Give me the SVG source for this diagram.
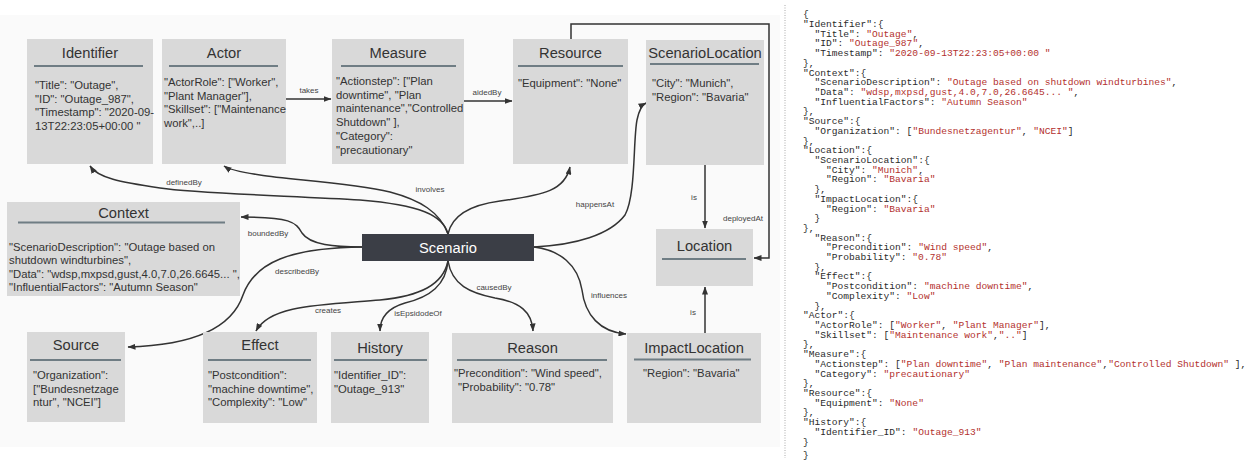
<svg xmlns="http://www.w3.org/2000/svg" width="1256" height="461" viewBox="0 0 1256 461">
  <style>
    .box { fill: #d9d9d9; }
    .uline { stroke: #6f7d84; stroke-width: 2; }
    .title { font-family: "Liberation Sans", Arial, sans-serif; font-size: 14.7px; fill: #333; text-anchor: middle; }
    .body { font-family: "Liberation Sans", Arial, sans-serif; font-size: 11.3px; fill: #333; }
    .edge { fill: none; stroke: #333; stroke-width: 1.5; marker-end: url(#arr); }
    .lbl { font-family: "Liberation Sans", Arial, sans-serif; font-size: 8px; fill: #444; text-anchor: middle; }
    .json { font-family: "Liberation Mono", "Courier New", monospace; font-size: 9.6px; fill: #2b2b2b; white-space: pre; }
    .str { fill: #b3312e; }
  </style>
  <defs>
    <marker id="arr" markerUnits="userSpaceOnUse" markerWidth="8" markerHeight="6" refX="7.5" refY="3" orient="auto">
      <path d="M0,0 L8,3 L0,6 z" fill="#333"/>
    </marker>
  </defs>

  <!-- canvas -->
  <rect x="0" y="0" width="1256" height="461" fill="#ffffff"/>
  <rect x="0" y="15" width="780" height="432" fill="#fafafa"/>

  <!-- connectors -->
  <g id="connectors">
    <path class="edge" d="M286,99 L331,99"/>
    <path class="edge" d="M464,101 L512,101"/>
    <path class="edge" d="M705,165 L705,228"/>
    <path class="edge" d="M705,333 L705,287"/>
    <path class="edge" d="M571,39 L571,24 L769,24 L769,258 L754,258"/>
    <path class="edge" d="M448,234 C443,215 420,205 360,200 C300,196 200,194 160,188 C120,182 98,178 90,166"/>
    <path class="edge" d="M448,234 C440,212 420,200 390,192 C350,182 290,180 260,175 C240,172 230,170 224,166"/>
    <path class="edge" d="M448,234 C452,215 470,205 500,201 C545,195 565,190 570,167"/>
    <path class="edge" d="M534,247 C575,245 610,235 625,215 C636,195 633,140 637,120 C639,110 642,105 646,103"/>
    <path class="edge" d="M362,247 C335,247 310,245 302,233 C296,222 290,217 241,217"/>
    <path class="edge" d="M362,247 C290,248 255,262 243,295 C233,325 200,345 128,347"/>
    <path class="edge" d="M448,261 C443,285 420,296 380,300 C320,305 270,305 256,331"/>
    <path class="edge" d="M448,261 C446,285 430,297 405,303 C388,308 380,318 380,331"/>
    <path class="edge" d="M448,261 C452,285 470,293 495,298 C520,302 532,312 533,331"/>
    <path class="edge" d="M534,247 C560,250 578,265 582,290 C585,315 600,332 626,334"/>
    <text class="lbl" x="309" y="93">takes</text>
    <text class="lbl" x="487" y="95">aidedBy</text>
    <text class="lbl" x="694" y="200">is</text>
    <text class="lbl" x="693" y="315">is</text>
    <text class="lbl" x="743" y="221">deployedAt</text>
    <text class="lbl" x="184" y="185">definedBy</text>
    <text class="lbl" x="430" y="192">involves</text>
    <text class="lbl" x="268" y="236">boundedBy</text>
    <text class="lbl" x="297" y="274">describedBy</text>
    <text class="lbl" x="595" y="207">happensAt</text>
    <text class="lbl" x="328" y="313">creates</text>
    <text class="lbl" x="418" y="316">isEpsidodeOf</text>
    <text class="lbl" x="494" y="290">causedBy</text>
    <text class="lbl" x="609" y="298">influences</text>
  </g>

  <g id="identifier">
    <rect class="box" x="27" y="39" width="126" height="125"/>
    <text class="title" x="90" y="58">Identifier</text>
    <line class="uline" x1="34" y1="66" x2="143" y2="66"/>
    <text class="body" x="35" y="89">"Title": "Outage",</text>
    <text class="body" x="35" y="102.5">"ID": "Outage_987",</text>
    <text class="body" x="35" y="116">"Timestamp": "2020-09-</text>
    <text class="body" x="35" y="129.5">13T22:23:05+00:00 "</text>
  </g>

  <g id="actor">
    <rect class="box" x="162" y="39" width="124" height="125"/>
    <text class="title" x="224" y="58">Actor</text>
    <line class="uline" x1="169" y1="66" x2="278" y2="66"/>
    <text class="body" x="164" y="86">"ActorRole": ["Worker",</text>
    <text class="body" x="164" y="99.5">"Plant Manager"],</text>
    <text class="body" x="164" y="113">"Skillset": ["Maintenance</text>
    <text class="body" x="164" y="126.5">work",..]</text>
  </g>

  <g id="measure">
    <rect class="box" x="332" y="39" width="132" height="125"/>
    <text class="title" x="398" y="58">Measure</text>
    <line class="uline" x1="341" y1="66" x2="456" y2="66"/>
    <text class="body" x="336" y="85">"Actionstep": ["Plan</text>
    <text class="body" x="336" y="98.7">downtime", "Plan</text>
    <text class="body" x="336" y="112.4">maintenance","Controlled</text>
    <text class="body" x="336" y="126.1">Shutdown" ],</text>
    <text class="body" x="336" y="139.8">"Category":</text>
    <text class="body" x="336" y="153.5">"precautionary"</text>
  </g>

  <g id="resource">
    <rect class="box" x="513" y="39" width="115" height="125"/>
    <text class="title" x="570.5" y="58">Resource</text>
    <line class="uline" x1="518" y1="66" x2="623" y2="66"/>
    <text class="body" x="518" y="87">"Equipment": "None"</text>
  </g>

  <g id="scenario-location">
    <rect class="box" x="646" y="40" width="118" height="125"/>
    <text class="title" x="705" y="58">ScenarioLocation</text>
    <line class="uline" x1="650" y1="64" x2="759" y2="64"/>
    <text class="body" x="652" y="87">"City": "Munich",</text>
    <text class="body" x="652" y="100.5">"Region": "Bavaria"</text>
  </g>

  <g id="location">
    <rect class="box" x="656" y="229" width="97" height="57"/>
    <text class="title" x="704.5" y="251">Location</text>
    <line class="uline" x1="662" y1="259" x2="746" y2="259"/>
  </g>

  <g id="context">
    <rect class="box" x="7" y="202" width="233" height="94"/>
    <text class="title" x="123.5" y="218">Context</text>
    <line class="uline" x1="18" y1="222.5" x2="225" y2="222.5"/>
    <text class="body" x="9" y="251">"ScenarioDescription": "Outage based on</text>
    <text class="body" x="9" y="264.3">shutdown windturbines",</text>
    <text class="body" x="9" y="277.6">"Data": "wdsp,mxpsd,gust,4.0,7.0,26.6645... ",</text>
    <text class="body" x="9" y="290.9">"InfluentialFactors": "Autumn Season"</text>
  </g>

  <g id="scenario">
    <rect x="362" y="234" width="172" height="27" fill="#3b3e46"/>
    <text class="title" x="448" y="253" style="fill:#ffffff">Scenario</text>
  </g>

  <g id="source">
    <rect class="box" x="27" y="332" width="98" height="90"/>
    <text class="title" x="76" y="350">Source</text>
    <line class="uline" x1="30" y1="360" x2="121" y2="360"/>
    <text class="body" x="33" y="379">"Organization":</text>
    <text class="body" x="33" y="392.5">["Bundesnetzage</text>
    <text class="body" x="33" y="406">ntur", "NCEI"]</text>
  </g>

  <g id="effect">
    <rect class="box" x="203" y="332" width="114" height="91"/>
    <text class="title" x="260" y="350">Effect</text>
    <line class="uline" x1="208" y1="360" x2="311" y2="360"/>
    <text class="body" x="208" y="379">"Postcondition":</text>
    <text class="body" x="208" y="392.5">"machine downtime",</text>
    <text class="body" x="208" y="406">"Complexity": "Low"</text>
  </g>

  <g id="history">
    <rect class="box" x="331" y="332" width="98" height="91"/>
    <text class="title" x="380" y="353">History</text>
    <line class="uline" x1="334" y1="360" x2="427" y2="360"/>
    <text class="body" x="334" y="379">"Identifier_ID":</text>
    <text class="body" x="334" y="392.5">"Outage_913"</text>
  </g>

  <g id="reason">
    <rect class="box" x="452" y="333" width="161" height="90"/>
    <text class="title" x="532.5" y="353">Reason</text>
    <line class="uline" x1="457" y1="360" x2="607" y2="360"/>
    <text class="body" x="454" y="377">"Precondition": "Wind speed",</text>
    <text class="body" x="458" y="391">"Probability": "0.78"</text>
  </g>

  <g id="impact-location">
    <rect class="box" x="627" y="333" width="134" height="90"/>
    <text class="title" x="694" y="353">ImpactLocation</text>
    <line class="uline" x1="634" y1="359.5" x2="751" y2="359.5"/>
    <text class="body" x="643" y="377">"Region": "Bavaria"</text>
  </g>

  <!-- divider -->
  <line x1="785" y1="5" x2="785" y2="458" stroke="#aaaaaa" stroke-width="1" stroke-dasharray="1,1.5"/>

  <!-- JSON listing -->
  <g id="json-listing" class="json" xml:space="preserve">
    <text x="803" y="17.3">{</text>
    <text x="803" y="27.0">"Identifier":{</text>
    <text x="814.5" y="36.7">"Title": <tspan class="str">"Outage"</tspan>,</text>
    <text x="814.5" y="46.4">"ID": <tspan class="str">"Outage_987"</tspan>,</text>
    <text x="814.5" y="56.1">"Timestamp": <tspan class="str">"2020-09-13T22:23:05+00:00 "</tspan></text>
    <text x="803" y="65.8">},</text>
    <text x="803" y="75.6">"Context":{</text>
    <text x="814.5" y="85.3">"ScenarioDescription": <tspan class="str">"Outage based on shutdown windturbines"</tspan>,</text>
    <text x="814.5" y="95.0">"Data": <tspan class="str">"wdsp,mxpsd,gust,4.0,7.0,26.6645... "</tspan>,</text>
    <text x="814.5" y="104.7">"InfluentialFactors": <tspan class="str">"Autumn Season"</tspan></text>
    <text x="803" y="114.4">},</text>
    <text x="803" y="124.1">"Source":{</text>
    <text x="814.5" y="133.8">"Organization": [<tspan class="str">"Bundesnetzagentur"</tspan>, <tspan class="str">"NCEI"</tspan>]</text>
    <text x="803" y="143.5">},</text>
    <text x="803" y="153.2">"Location":{</text>
    <text x="814.5" y="162.9">"ScenarioLocation":{</text>
    <text x="826" y="172.7">"City": <tspan class="str">"Munich"</tspan>,</text>
    <text x="826" y="182.4">"Region": <tspan class="str">"Bavaria"</tspan></text>
    <text x="814.5" y="192.1">},</text>
    <text x="814.5" y="201.8">"ImpactLocation":{</text>
    <text x="826" y="211.5">"Region": <tspan class="str">"Bavaria"</tspan></text>
    <text x="814.5" y="221.2">}</text>
    <text x="803" y="230.9">},</text>
    <text x="814.5" y="240.6">"Reason":{</text>
    <text x="826" y="250.3">"Precondition": <tspan class="str">"Wind speed"</tspan>,</text>
    <text x="826" y="260.0">"Probability": <tspan class="str">"0.78"</tspan></text>
    <text x="814.5" y="269.7">},</text>
    <text x="814.5" y="279.4">"Effect":{</text>
    <text x="826" y="289.2">"Postcondition": <tspan class="str">"machine downtime"</tspan>,</text>
    <text x="826" y="298.9">"Complexity": <tspan class="str">"Low"</tspan></text>
    <text x="814.5" y="308.6">},</text>
    <text x="803" y="318.3">"Actor":{</text>
    <text x="814.5" y="328.0">"ActorRole": [<tspan class="str">"Worker"</tspan>, <tspan class="str">"Plant Manager"</tspan>],</text>
    <text x="814.5" y="337.7">"Skillset": [<tspan class="str">"Maintenance work"</tspan>,<tspan class="str">".."</tspan>]</text>
    <text x="803" y="347.4">},</text>
    <text x="803" y="357.1">"Measure":{</text>
    <text x="814.5" y="366.8">"Actionstep": [<tspan class="str">"Plan downtime"</tspan>, <tspan class="str">"Plan maintenance"</tspan>,<tspan class="str">"Controlled Shutdown"</tspan> ],</text>
    <text x="814.5" y="376.5">"Category": <tspan class="str">"precautionary"</tspan></text>
    <text x="803" y="386.3">},</text>
    <text x="803" y="396.0">"Resource":{</text>
    <text x="814.5" y="405.7">"Equipment": <tspan class="str">"None"</tspan></text>
    <text x="803" y="415.4">},</text>
    <text x="803" y="425.1">"History":{</text>
    <text x="814.5" y="434.8">"Identifier_ID": <tspan class="str">"Outage_913"</tspan></text>
    <text x="803" y="444.5">}</text>
    <text x="803" y="458">}</text>
  </g>
</svg>
